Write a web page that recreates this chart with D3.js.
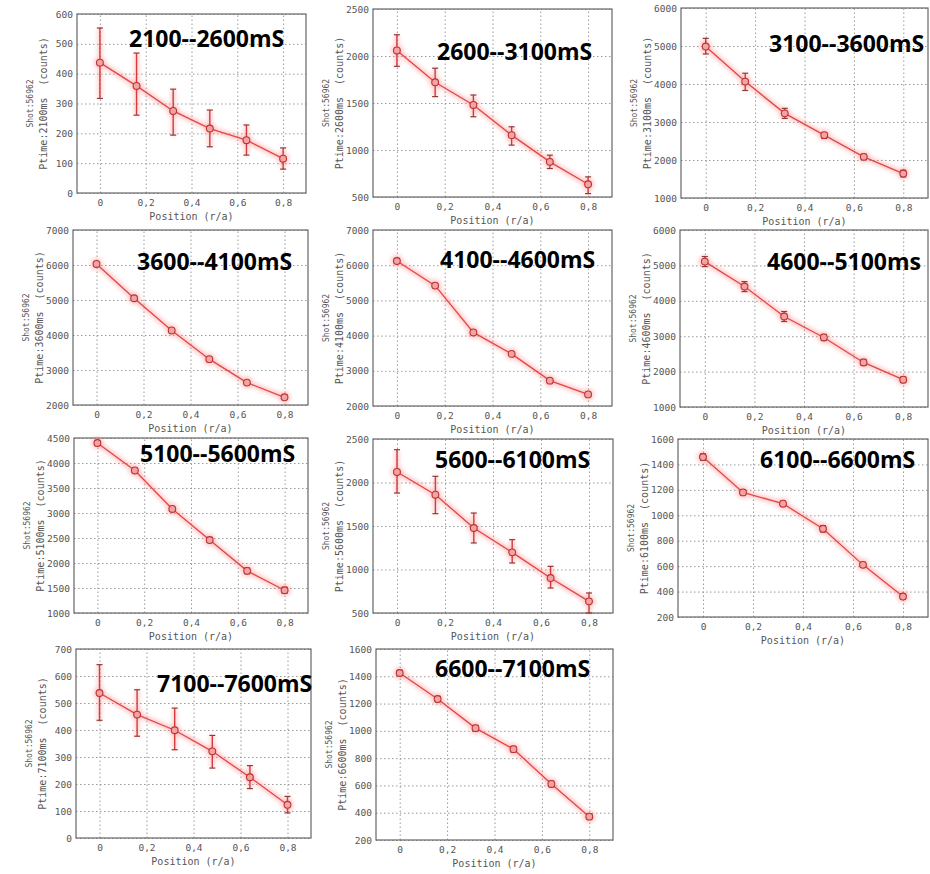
<!DOCTYPE html>
<html>
<head>
<meta charset="utf-8">
<script src="https://cdn.jsdelivr.net/npm/d3@7"></script>
<style>
  body { margin: 0; background: #fff; }
  svg { display: block; }
</style>
</head>
<body>
<svg id="chart" width="930" height="874"></svg>
<script>
// Radial positions (r/a) of the six channels and the shared x ticks
const positions = [0, 0.16, 0.32, 0.48, 0.64, 0.8];
const xTicks = [0, 0.2, 0.4, 0.6, 0.8];
const shotLabel = "Shot:56962";

// Time windows, in drawing order
const windows = ["2100--2600mS", "2600--3100mS", "3100--3600mS",
                 "3600--4100mS", "4100--4600mS", "4600--5100ms",
                 "5100--5600mS", "5600--6100mS", "6100--6600mS",
                 "7100--7600mS", "6600--7100mS"];
const ptimes = ["2100ms", "2600ms", "3100ms", "3600ms", "4100ms", "4600ms",
                "5100ms", "5600ms", "6100ms", "7100ms", "6600ms"];

// Counts per channel with error-bar bounds
const counts_2100 = [437, 359, 275, 216, 177, 115];
const high_2100   = [553, 469, 348, 278, 228, 151];
const low_2100    = [317, 261, 194, 155, 127, 80];
const yTicks_2100 = [0, 100, 200, 300, 400, 500, 600];

const counts_2600 = [2059, 1720, 1479, 1158, 874, 635];
const high_2600   = [2226, 1870, 1585, 1247, 945, 714];
const low_2600    = [1890, 1568, 1354, 1052, 803, 536];
const yTicks_2600 = [500, 1000, 1500, 2000, 2500];

const counts_3100 = [4985, 4063, 3227, 2655, 2083, 1643];
const high_3100   = [5200, 4283, 3359, 2716, 2153, 1730];
const low_3100    = [4790, 3830, 3095, 2567, 2012, 1555];
const yTicks_3100 = [1000, 2000, 3000, 4000, 5000, 6000];

const counts_3600 = [6030, 5050, 4130, 3310, 2640, 2220];
const high_3600   = [6090, 5100, 4180, 3350, 2680, 2280];
const low_3600    = [5970, 5000, 4080, 3270, 2600, 2160];
const yTicks_3600 = [2000, 3000, 4000, 5000, 6000, 7000];

const counts_4100 = [6120, 5420, 4090, 3480, 2720, 2330];
const high_4100   = [6190, 5480, 4150, 3530, 2770, 2390];
const low_4100    = [6050, 5360, 4030, 3430, 2670, 2270];
const yTicks_4100 = [2000, 3000, 4000, 5000, 6000, 7000];

const counts_4600 = [5107, 4402, 3556, 2964, 2259, 1771];
const high_4600   = [5250, 4543, 3697, 3050, 2345, 1850];
const low_4600    = [4966, 4261, 3415, 2880, 2175, 1690];
const yTicks_4600 = [1000, 2000, 3000, 4000, 5000, 6000];

const counts_5100 = [4400, 3851, 3081, 2459, 1843, 1455];
const high_5100   = [4450, 3890, 3120, 2510, 1900, 1515];
const low_5100    = [4350, 3810, 3040, 2410, 1785, 1395];
const yTicks_5100 = [1000, 1500, 2000, 2500, 3000, 3500, 4000, 4500];

const counts_5600 = [2121, 1860, 1477, 1197, 902, 634];
const high_5600   = [2377, 2071, 1649, 1343, 1036, 730];
const low_5600    = [1879, 1642, 1305, 1075, 787, 500];
const yTicks_5600 = [500, 1000, 1500, 2000, 2500];

const counts_6100 = [1458, 1180, 1091, 894, 610, 361];
const high_6100   = [1483, 1200, 1111, 919, 630, 381];
const low_6100    = [1433, 1160, 1071, 869, 590, 341];
const yTicks_6100 = [200, 400, 600, 800, 1000, 1200, 1400, 1600];

const counts_7100 = [537, 457, 399, 321, 225, 123];
const high_7100   = [642, 549, 481, 380, 268, 154];
const low_7100    = [436, 377, 327, 259, 183, 93];
const yTicks_7100 = [0, 100, 200, 300, 400, 500, 600, 700];

const counts_6600 = [1424, 1233, 1020, 866, 611, 371];
const high_6600   = [1444, 1253, 1040, 886, 631, 391];
const low_6600    = [1404, 1213, 1000, 846, 591, 351];
const yTicks_6600 = [200, 400, 600, 800, 1000, 1200, 1400, 1600];

const seriesList = [
  [counts_2100, high_2100, low_2100, yTicks_2100],
  [counts_2600, high_2600, low_2600, yTicks_2600],
  [counts_3100, high_3100, low_3100, yTicks_3100],
  [counts_3600, high_3600, low_3600, yTicks_3600],
  [counts_4100, high_4100, low_4100, yTicks_4100],
  [counts_4600, high_4600, low_4600, yTicks_4600],
  [counts_5100, high_5100, low_5100, yTicks_5100],
  [counts_5600, high_5600, low_5600, yTicks_5600],
  [counts_6100, high_6100, low_6100, yTicks_6100],
  [counts_7100, high_7100, low_7100, yTicks_7100],
  [counts_6600, high_6600, low_6600, yTicks_6600]
];

// Plot frames (left, top, right, bottom) and the overlay title anchor
const frames = [
  {l: 77,  t: 14,  r: 306, b: 193, tx: 129, ty: 47},
  {l: 373, t: 9,   r: 612, b: 197, tx: 437, ty: 60},
  {l: 681, t: 8,   r: 928, b: 198, tx: 769, ty: 52},
  {l: 73,  t: 230, r: 308, b: 405, tx: 137, ty: 270},
  {l: 373, t: 230, r: 612, b: 406, tx: 440, ty: 268},
  {l: 680, t: 230, r: 928, b: 407, tx: 767, ty: 270},
  {l: 74,  t: 438, r: 308, b: 613, tx: 140, ty: 462},
  {l: 373, t: 439, r: 613, b: 613, tx: 435, ty: 468},
  {l: 678, t: 439, r: 928, b: 617, tx: 760, ty: 468},
  {l: 76,  t: 649, r: 311, b: 838, tx: 157, ty: 692},
  {l: 376, t: 649, r: 613, b: 840, tx: 435, ty: 677}
];

const svg = d3.select("#chart");
svg.append("rect").attr("width", 930).attr("height", 874).attr("fill", "#fff");

const defs = svg.append("defs");
defs.append("filter").attr("id", "halo")
  .attr("x", "-20%").attr("y", "-20%").attr("width", "140%").attr("height", "140%")
  .append("feGaussianBlur").attr("stdDeviation", 2.2);

const mono = "'DejaVu Sans Mono', monospace";
const fmtX = d => d === 0 ? "0" : d3.format(".1f")(d).replace(".", ",");

seriesList.forEach(([vals, hi, lo, yt], i) => {
  const f = frames[i];
  const x = d3.scaleLinear().domain([-0.1, 0.9]).range([f.l, f.r]);
  const y = d3.scaleLinear().domain([yt[0], yt[yt.length - 1]]).range([f.b, f.t]);
  const g = svg.append("g");

  // dotted grid with tick labels
  const gx = g.append("g").attr("transform", `translate(0,${f.b})`)
    .call(d3.axisBottom(x).tickValues(xTicks).tickFormat(fmtX)
      .tickSize(-(f.b - f.t)).tickPadding(6));
  const gy = g.append("g").attr("transform", `translate(${f.l},0)`)
    .call(d3.axisLeft(y).tickValues(yt).tickFormat(d3.format("d"))
      .tickSize(-(f.r - f.l)).tickPadding(4));
  [gx, gy].forEach(ax => {
    ax.select(".domain").remove();
    ax.selectAll(".tick line")
      .attr("stroke", "#9a9a9a").attr("stroke-width", 1)
      .attr("stroke-dasharray", "1.5,2.5");
    ax.selectAll(".tick text")
      .attr("fill", "#555").style("font-family", mono).style("font-size", "9.5px");
  });

  // plot frame
  g.append("rect")
    .attr("x", f.l).attr("y", f.t)
    .attr("width", f.r - f.l).attr("height", f.b - f.t)
    .attr("fill", "none").attr("stroke", "#666").attr("stroke-width", 1.2);

  const pts = positions.map((p, k) => ({p, v: vals[k], hi: hi[k], lo: lo[k]}));
  const line = d3.line().x(d => x(d.p)).y(d => y(d.v));

  // soft pink glow around the profile
  const glow = g.append("g").attr("filter", "url(#halo)").attr("opacity", 0.45);
  glow.append("path").datum(pts).attr("d", line)
    .attr("fill", "none").attr("stroke", "#ff7f7f").attr("stroke-width", 5);
  glow.selectAll("line").data(pts).join("line")
    .attr("x1", d => x(d.p)).attr("x2", d => x(d.p))
    .attr("y1", d => y(d.hi)).attr("y2", d => y(d.lo))
    .attr("stroke", "#ff7f7f").attr("stroke-width", 4);
  glow.selectAll("circle").data(pts).join("circle")
    .attr("cx", d => x(d.p)).attr("cy", d => y(d.v)).attr("r", 6)
    .attr("fill", "#ff7f7f");

  // profile line
  g.append("path").datum(pts).attr("d", line)
    .attr("fill", "none").attr("stroke", "#e04848").attr("stroke-width", 1.3);

  // error bars with caps
  const eb = g.append("g");
  eb.selectAll("line.bar").data(pts).join("line").attr("class", "bar")
    .attr("x1", d => x(d.p)).attr("x2", d => x(d.p))
    .attr("y1", d => y(d.hi)).attr("y2", d => y(d.lo))
    .attr("stroke", "#d23c3c").attr("stroke-width", 1.4);
  ["hi", "lo"].forEach(key => {
    eb.selectAll(`line.cap-${key}`).data(pts).join("line").attr("class", `cap-${key}`)
      .attr("x1", d => x(d.p) - 3).attr("x2", d => x(d.p) + 3)
      .attr("y1", d => y(d[key])).attr("y2", d => y(d[key]))
      .attr("stroke", "#8c3a3a").attr("stroke-width", 1.2);
  });

  // markers
  g.selectAll("circle.mk").data(pts).join("circle").attr("class", "mk")
    .attr("cx", d => x(d.p)).attr("cy", d => y(d.v)).attr("r", 3.4)
    .attr("fill", "#f3a3a3").attr("stroke", "#b83434").attr("stroke-width", 1.1);

  // axis labels
  g.append("text")
    .attr("x", (f.l + f.r) / 2).attr("y", f.b + 27)
    .attr("text-anchor", "middle").attr("fill", "#555")
    .style("font-family", mono).style("font-size", "10px")
    .text("Position (r/a)");

  const cy = (f.t + f.b) / 2;
  g.append("text")
    .attr("transform", `translate(${f.l - 47},${cy}) rotate(-90)`)
    .attr("text-anchor", "middle").attr("dominant-baseline", "central")
    .attr("fill", "#555").style("font-family", mono).style("font-size", "8px")
    .text(shotLabel);
  g.append("text")
    .attr("transform", `translate(${f.l - 34},${cy}) rotate(-90)`)
    .attr("text-anchor", "middle").attr("dominant-baseline", "central")
    .attr("fill", "#555").style("font-family", mono).style("font-size", "10px")
    .style("white-space", "pre")
    .text(`Ptime:${ptimes[i]}  (counts)`);

  // time-window title
  g.append("text")
    .attr("x", f.tx).attr("y", f.ty)
    .attr("fill", "#000")
    .style("font-family", "'Open Sans', sans-serif")
    .style("font-weight", "bold").style("font-size", "23px")
    .text(windows[i]);
});
</script>
</body>
</html>
